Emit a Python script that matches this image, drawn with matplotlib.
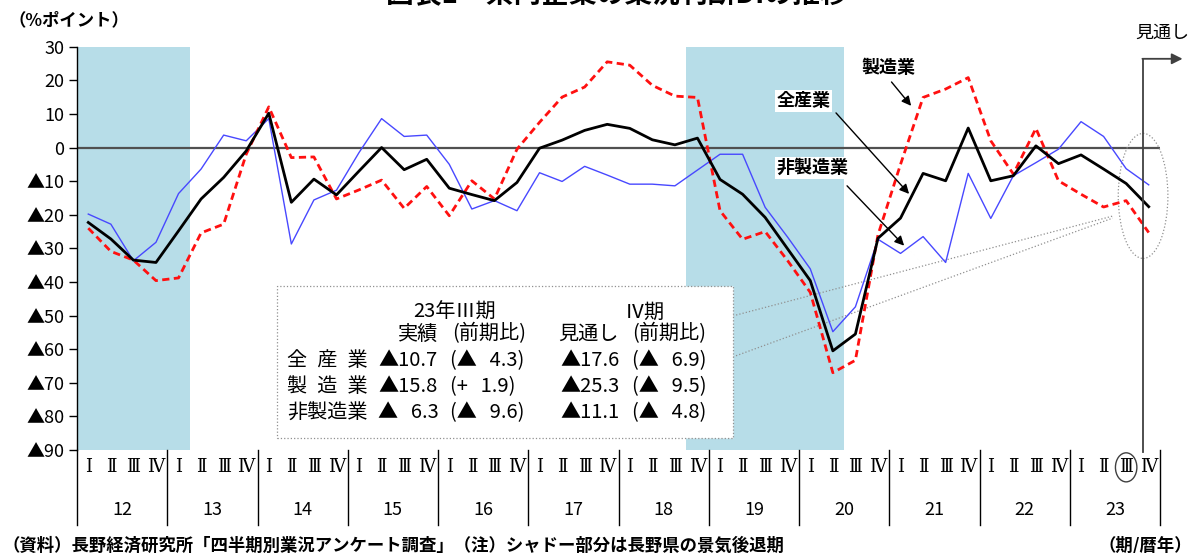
import numpy as np
import matplotlib.pyplot as plt
import matplotlib.transforms as mtransforms
from matplotlib.patches import Ellipse, Rectangle

plt.rcParams['font.family'] = ['Noto Sans CJK JP', 'DejaVu Sans']

# ---- data (DI, %points), 2012 Q1 .. 2023 Q4 (last point = outlook) ----
years = ['12', '13', '14', '15', '16', '17', '18', '19', '20', '21', '22', '23']
quarters = ['Ⅰ', 'Ⅱ', 'Ⅲ', 'Ⅳ']

all_ind = [-22.3, -27.2, -33.5, -34.2, -24.8, -15.3, -8.9, -1.0,
           10.2, -16.3, -9.4, -14.1, -7.0, 0.0, -6.6, -3.5,
           -12.1, -14.0, -15.8, -10.4, -0.2, 2.2, 5.1, 6.9,
           5.7, 2.3, 0.8, 2.8, -9.5, -13.9, -20.8, -30.2,
           -39.6, -60.5, -55.5, -27.0, -21.0, -7.7, -9.9, 5.8,
           -9.9, -8.4, 0.5, -4.8, -2.2, -6.4, -10.7, -17.6]
manuf = [-24.0, -30.9, -33.5, -39.6, -38.8, -25.4, -22.8, -2.0,
         12.1, -3.0, -2.8, -15.3, -12.6, -9.7, -18.1, -11.6,
         -20.3, -9.9, -15.3, -0.5, 7.5, 15.0, 18.0, 25.5,
         24.5, 18.5, 15.3, 14.9, -18.8, -27.3, -25.0, -33.7,
         -43.1, -67.0, -63.3, -26.0, -5.0, 14.9, 17.4, 20.8,
         2.0, -7.9, 5.7, -9.9, -13.9, -17.7, -15.8, -25.3]
nonmanuf = [-19.8, -22.8, -33.7, -28.2, -13.7, -6.4, 3.7, 2.0,
            8.6, -28.7, -15.6, -12.7, -1.5, 8.6, 3.3, 3.7,
            -5.0, -18.3, -15.8, -18.8, -7.5, -10.1, -5.6, -8.2,
            -10.9, -10.9, -11.4, -6.7, -2.0, -2.0, -17.8, -26.7,
            -36.1, -54.8, -47.4, -27.3, -31.5, -26.5, -34.2, -7.7,
            -21.1, -8.4, -4.5, -0.5, 7.7, 3.3, -6.3, -11.1]

# shaded recession periods (first and last quarter index)
recessions = [(0, 4), (27, 33)]

series_names = ['全\u2002産\u2002業', '製\u2002造\u2002業', '非製造業']

W, H = 1197, 553


def px(x, y):
    # pixel position (from top-left) -> figure fraction
    return x / W, 1 - y / H


def tri(v):
    s = '▲' if v < 0 else '+'
    num = f"{abs(v):.1f}"
    if len(num) < 4:
        num = '\u2007' + num   # digit-wide pad, like the original's fixed pitch
    return s + num


fig = plt.figure(figsize=(W / 100, H / 100), dpi=100)
ax = fig.add_axes([77 / W, 103 / H, 1083 / W, 403.3 / H])
ax.set_xlim(-0.5, 47.5)
ax.set_ylim(-90, 30)

for s in ['top', 'right', 'bottom']:
    ax.spines[s].set_visible(False)
ax.spines['left'].set_color('black')
ax.spines['left'].set_linewidth(1)

yt = np.arange(-90, 31, 10)
ax.set_yticks(yt)
ax.set_yticklabels([f'▲{-v}' if v < 0 else f'{v}' for v in yt])
ax.tick_params(axis='y', direction='out', length=6, width=1, labelsize=13, pad=3)
ax.set_xticks([])

for a, b in recessions:
    ax.axvspan(a - 0.5, b + 0.5, color='#b7dde8', lw=0, zorder=0)
ax.axhline(0, color='#505050', lw=1.6, zorder=1)

x = np.arange(len(all_ind))
ax.plot(x, nonmanuf, color='#4848ff', lw=1.0, zorder=3)
ax.plot(x, manuf, color='#ff1010', lw=2.0, ls=(0, (2.6, 1.6)), zorder=4)
ax.plot(x, all_ind, color='black', lw=2.0, zorder=5)

# category axis drawn by hand: quarters, years, separators
blend = mtransforms.blended_transform_factory(ax.transData, ax.transAxes)
for i in range(len(all_ind)):
    ax.text(i, -0.043, quarters[i % 4], transform=blend, ha='center', va='center',
            fontsize=13, family=['DejaVu Serif', 'Noto Sans CJK JP'])
for k, yr in enumerate(years):
    ax.text(4 * k + 1.5, -0.15, yr, transform=blend, ha='center', va='center', fontsize=13)
for k in range(len(years) + 1):
    ax.plot([4 * k - 0.5] * 2, [0, -0.186], transform=blend, color='black', lw=1,
            clip_on=False)
ax.add_patch(Ellipse((46, -0.043), 0.95, 0.072, transform=blend, fill=False,
                     ec='#404040', lw=1, clip_on=False))

# summary box
ax.add_patch(Rectangle((8.37, -86.4), 20.2, 45.2, fc='white', ec='#909090',
                       lw=0.9, ls=':', zorder=6))
ax.plot([28.57, 45.4], [-50.1, -20.4], color='#909090', lw=0.9, ls=':', zorder=2)
ax.plot([28.57, 45.4], [-62.3, -21.0], color='#909090', lw=0.9, ls=':', zorder=2)
ax.add_patch(Ellipse((46.75, -14.4), 2.2, 37.2, fill=False, ec='#909090', lw=0.9,
                     ls=':', clip_on=False, zorder=2))

tfs = 14.5
fig.text(*px(413, 312), '23年Ⅲ期', fontsize=tfs, va='center', zorder=7)
fig.text(*px(625, 312), 'Ⅳ期', fontsize=tfs, va='center', zorder=7)
fig.text(*px(398, 334), '実績', fontsize=tfs, va='center', zorder=7)
fig.text(*px(452, 334), '(前期比)', fontsize=tfs, va='center', zorder=7)
fig.text(*px(558, 334), '見通し', fontsize=tfs, va='center', zorder=7)
fig.text(*px(632, 334), '(前期比)', fontsize=tfs, va='center', zorder=7)
for r, (name, ser) in enumerate(zip(series_names, [all_ind, manuf, nonmanuf])):
    yy = 361 + 26 * r
    q3, q2, q4 = ser[46], ser[45], ser[47]
    fig.text(*px(287, yy), name, fontsize=tfs, va='center', zorder=7)
    fig.text(*px(378, yy), tri(q3), fontsize=tfs, va='center', zorder=7)
    fig.text(*px(450, yy), f'({tri(round(q3 - q2, 1))})', fontsize=tfs, va='center', zorder=7)
    fig.text(*px(560, yy), tri(q4), fontsize=tfs, va='center', zorder=7)
    fig.text(*px(632, yy), f'({tri(round(q4 - q3, 1))})', fontsize=tfs, va='center', zorder=7)

# series labels with arrows
arrow = dict(arrowstyle='-|>', color='black', lw=1, mutation_scale=14, shrinkA=0, shrinkB=0)
ax.text(35.45, 23.7, '製造業', ha='center', va='center', fontsize=13, fontweight='bold',
        bbox=dict(fc='white', ec='none', pad=1), zorder=8)
ax.annotate('', xy=(36.47, 12.4), xytext=(35.6, 19.5), arrowprops=arrow, zorder=8)
ax.text(31.7, 13.9, '全産業', ha='center', va='center', fontsize=13, fontweight='bold',
        bbox=dict(fc='white', ec='none', pad=1), zorder=8)
ax.annotate('', xy=(36.38, -13.8), xytext=(33.14, 10.3), arrowprops=arrow, zorder=8)
ax.text(32.1, -6.0, '非製造業', ha='center', va='center', fontsize=13, fontweight='bold',
        bbox=dict(fc='white', ec='none', pad=1), zorder=8)
ax.annotate('', xy=(36.16, -29.2), xytext=(33.63, -11.4), arrowprops=arrow, zorder=8)

# outlook marker
ax.plot([46.75, 46.75], [-90.5, 26.4], color='#404040', lw=1.3, clip_on=False, zorder=6)
ax.annotate('', xy=(48.5, 26.4), xytext=(46.72, 26.4),
            arrowprops=dict(arrowstyle='-|>', color='#404040', lw=1.3, mutation_scale=16,
                            shrinkA=0, shrinkB=0), annotation_clip=False, zorder=6)
fig.text(*px(1162, 33), '見通し', fontsize=13, ha='center', va='center')

# titles and notes (title is cropped at the top edge, as in the original)
fig.text(*px(617, -6), '図表1　県内企業の業況判断DIの推移', fontsize=20, fontweight='bold',
         ha='center', va='center')
fig.text(*px(8, 20), '（%ポイント）', fontsize=12.5, fontweight='bold', va='center')
fig.text(*px(2, 546), '（資料）長野経済研究所「四半期別業況アンケート調査」（注）シャドー部分は長野県の景気後退期',
         fontsize=12.5, fontweight='bold', va='center')
fig.text(*px(1192, 546), '（期/暦年）', fontsize=12.5, fontweight='bold', va='center', ha='right')

fig.savefig('out.png', dpi=100)
